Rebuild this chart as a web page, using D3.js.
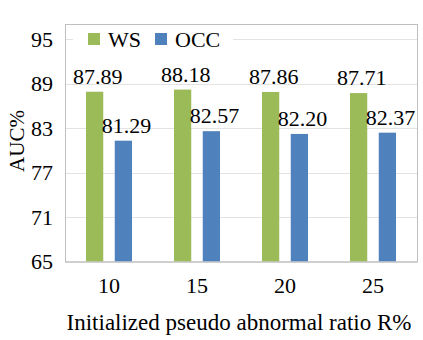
<!DOCTYPE html>
<html>
<head>
<meta charset="utf-8">
<script src="https://cdn.jsdelivr.net/npm/d3@7"></script>
<style>
  html, body { margin: 0; padding: 0; background: #fff; }
  svg text { font-family: "Liberation Serif", "Times New Roman", serif; fill: #000; }
</style>
</head>
<body>
<svg id="chart" width="423" height="340"></svg>
<script>
const categories = ["10", "15", "20", "25"];
const seriesNames = ["WS", "OCC"];
const wsValues = [87.89, 88.18, 87.86, 87.71];
const occValues = [81.29, 82.57, 82.20, 82.37];
const yTicks = [65, 71, 77, 83, 89, 95];
const colors = ["#9BBB59", "#4F81BD"];

const FS = 22;
const svg = d3.select("#chart");
const pLeft = 65, pRight = 417, pTop = 24, pBottom = 261.5;

const x0 = d3.scaleBand().domain(categories).range([pLeft, pRight]).padding(0);
const x1 = d3.scaleBand().domain(seriesNames).range([21, 67]).paddingInner(0.4);
const y = d3.scaleLinear().domain([65, 95]).range([pBottom, 39]);

// plot area border
svg.append("rect").attr("x", pLeft + 0.5).attr("y", pTop + 0.5).attr("width", pRight - pLeft).attr("height", pBottom - pTop)
  .attr("fill", "none").attr("stroke", "#bfbfbf").attr("stroke-width", 1);

// gridlines
svg.append("g").selectAll("line").data(yTicks.filter(d => d > 65)).join("line")
  .attr("x1", pLeft + 1).attr("x2", pRight)
  .attr("y1", d => Math.round(y(d)) + 0.5).attr("y2", d => Math.round(y(d)) + 0.5)
  .attr("stroke", "#e3e3e3").attr("stroke-width", 1);

// y axis labels
const yAxis = d3.axisLeft(y).tickValues(yTicks).tickSize(0).tickPadding(12);
const gy = svg.append("g").attr("transform", `translate(${pLeft},0)`).call(yAxis);
gy.select(".domain").remove();
gy.selectAll("text").attr("font-size", FS).attr("font-family", "Liberation Serif");

// bars
const data = categories.map((c, i) => ({ cat: c, vals: [wsValues[i], occValues[i]] }));
const groups = svg.append("g").selectAll("g").data(data).join("g")
  .attr("transform", d => `translate(${x0(d.cat)},0)`);
groups.selectAll("rect").data(d => d.vals.map((v, j) => ({ s: seriesNames[j], v, j }))).join("rect")
  .attr("x", d => x1(d.s)).attr("width", x1.bandwidth())
  .attr("y", d => y(d.v)).attr("height", d => pBottom - y(d.v))
  .attr("fill", d => colors[d.j]);
groups.selectAll("text.val").data(d => d.vals.map((v, j) => ({ s: seriesNames[j], v, j }))).join("text")
  .attr("class", "val")
  .attr("x", d => x1(d.s) + x1.bandwidth() / 2 + 3)
  .attr("y", d => y(d.v) - 8)
  .attr("text-anchor", "middle").attr("font-size", FS)
  .text(d => d.v.toFixed(2));

// bottom axis line
svg.append("line").attr("x1", pLeft).attr("x2", pRight).attr("y1", pBottom + 0.5).attr("y2", pBottom + 0.5)
  .attr("stroke", "#bfbfbf");

// x axis labels
const xAxis = d3.axisBottom(x0).tickSize(0).tickPadding(16);
const gx = svg.append("g").attr("transform", `translate(0,${pBottom})`).call(xAxis);
gx.select(".domain").remove();
gx.selectAll("text").attr("font-size", FS).attr("font-family", "Liberation Serif");

// axis titles
svg.append("text").attr("x", (pLeft + pRight) / 2 - 2).attr("y", 330)
  .attr("text-anchor", "middle").attr("font-size", 23)
  .text("Initialized pseudo abnormal ratio R%");
svg.append("text").attr("transform", `translate(23.5,141) rotate(-90)`)
  .attr("text-anchor", "middle").attr("font-size", 21)
  .text("AUC%");

// legend
const lg = svg.append("g");
lg.append("rect").attr("x", 73).attr("y", 28).attr("width", 160).attr("height", 22).attr("fill", "#fff");
const legendX = [88, 155];
seriesNames.forEach((s, i) => {
  lg.append("rect").attr("x", legendX[i]).attr("y", 33).attr("width", 12).attr("height", 12).attr("fill", colors[i]);
  lg.append("text").attr("x", legendX[i] + 20).attr("y", 47).attr("font-size", FS).text(s);
});
</script>
</body>
</html>
